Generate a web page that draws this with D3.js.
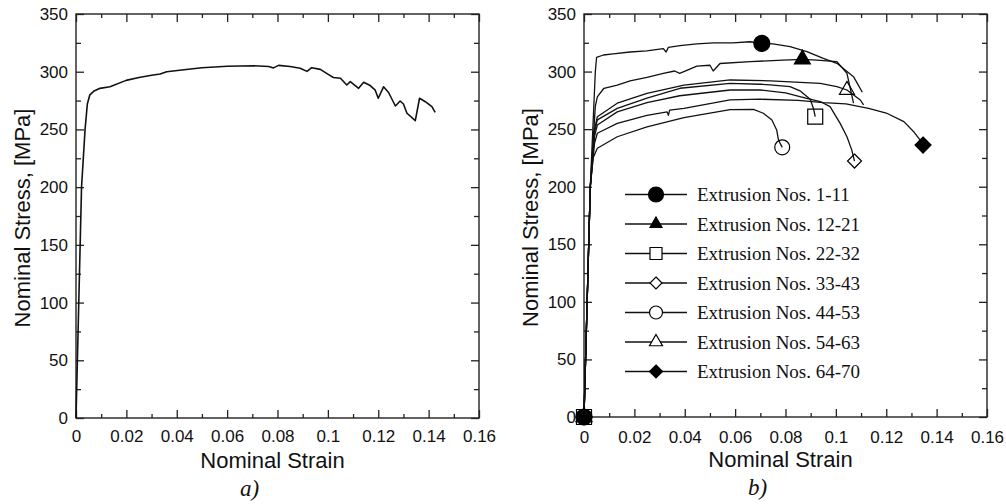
<!DOCTYPE html>
<html>
<head>
<meta charset="utf-8">
<script src="https://cdn.jsdelivr.net/npm/d3@7"></script>
<style>
  body { margin: 0; background: #fff; }
  svg { display: block; }
</style>
</head>
<body>
<svg id="chart" width="1006" height="504"></svg>
<script>
// ---- data ----
var xTicks = [0, 0.02, 0.04, 0.06, 0.08, 0.1, 0.12, 0.14, 0.16]
var xTickLabels = ["0", "0.02", "0.04", "0.06", "0.08", "0.1", "0.12", "0.14", "0.16"]
var xMinor = [0.01, 0.03, 0.05, 0.07, 0.09, 0.11, 0.13, 0.15]
var yTicks = [0, 50, 100, 150, 200, 250, 300, 350]
var yMinor = [25, 75, 125, 175, 225, 275, 325]

// panel a) single test
var curveA = [[0,0],[0.0022,200],[0.0036,250],[0.0045,272],[0.0055,280],[0.007,283],[0.0095,285.6],
  [0.0135,287],[0.0199,292.5],[0.025,295],[0.03,297],[0.0334,298],[0.036,300],[0.042,301.5],[0.05,303.5],
  [0.06,304.7],[0.0705,305.2],[0.0765,304.5],[0.0784,303.3],[0.0804,305.5],[0.085,304.5],[0.089,303],
  [0.0917,300.3],[0.0936,303.5],[0.097,302],[0.1003,297.5],[0.1022,295],[0.105,294.3],[0.1075,288.5],
  [0.1089,291.4],[0.1122,285.6],[0.1142,290.8],[0.1168,288],[0.1188,284],[0.12,277],[0.1221,286.9],
  [0.1241,282],[0.1268,270.3],[0.1287,274.6],[0.13,272],[0.1314,264],[0.1347,257.6],[0.1364,277],
  [0.1387,274],[0.1413,269.7],[0.1426,264.8]]

// panel b) one curve per extrusion group
var seriesLabels = ["Extrusion Nos. 1-11", "Extrusion Nos. 12-21", "Extrusion Nos. 22-32",
  "Extrusion Nos. 33-43", "Extrusion Nos. 44-53", "Extrusion Nos. 54-63", "Extrusion Nos. 64-70"]

var ext1_11 = [[0,0],[0.0025,200],[0.0045,300],[0.005,312.4],[0.0077,314.4],[0.0116,315.3],[0.0183,317],
  [0.0249,318],[0.0315,320],[0.0326,317],[0.0335,321],[0.0381,322.5],[0.0448,324],[0.0514,325],[0.059,325],
  [0.066,325.9],[0.0706,324.5],[0.075,324],[0.0818,321.6],[0.0885,317.3],[0.095,311.5],[0.1004,307.2],
  [0.107,295.6],[0.1105,282]]
var ext12_21 = [[0,0],[0.0025,200],[0.0045,270],[0.0053,278],[0.0079,285.5],[0.0132,288.3],[0.0183,292],
  [0.025,295],[0.0315,298.5],[0.036,300.5],[0.038,298.5],[0.0448,304.8],[0.05,305.5],[0.0513,300.5],
  [0.054,307],[0.066,308.6],[0.079,310],[0.0867,310.6],[0.0925,310],[0.1004,308.6],[0.1044,298.5],[0.107,272.5]]
var ext22_32 = [[0,0],[0.0025,200],[0.0042,248],[0.0053,258],[0.0132,268],[0.025,277],[0.0381,285.5],
  [0.058,289.8],[0.07,289],[0.0739,288.5],[0.0818,287],[0.086,283],[0.0898,276],[0.0911,268],[0.0918,260.8]]
var ext33_43 = [[0,0],[0.0025,200],[0.0042,244],[0.0053,253.6],[0.0132,265],[0.025,273],[0.038,279],
  [0.058,284],[0.07,284],[0.08,281.5],[0.088,277],[0.0938,274],[0.0977,269.5],[0.1017,255],[0.1044,243.4],
  [0.1063,232],[0.1074,222.3]]
var ext44_53 = [[0,0],[0.0025,200],[0.0036,225],[0.0053,233.4],[0.0132,243.4],[0.025,252],[0.0397,260],
  [0.058,267],[0.0673,267.2],[0.0712,263.8],[0.0746,258],[0.0765,249.3],[0.0772,240.6],[0.0787,234.2]]
var ext54_63 = [[0,0],[0.0025,200],[0.0042,250],[0.0053,260.8],[0.0132,272.5],[0.025,281],[0.0397,288.3],
  [0.058,292.7],[0.074,292],[0.0938,289.8],[0.1004,286.9],[0.1044,284],[0.1097,275.3],[0.111,271]]
var ext64_70 = [[0,0],[0.0025,200],[0.0042,238],[0.0053,246.4],[0.0132,255],[0.025,262],[0.033,265],
  [0.0335,262],[0.034,266.5],[0.0397,268],[0.058,275.4],[0.07,276],[0.085,275],[0.095,273],[0.104,272],
  [0.113,268],[0.12,264],[0.127,256.5],[0.1308,248],[0.134,239],[0.1346,236.2]]

var seriesData = [ext1_11, ext12_21, ext22_32, ext33_43, ext44_53, ext54_63, ext64_70]
// marked point on each curve (besides the origin)
var markStrain = [0.0706, 0.0867, 0.0918, 0.1074, 0.0787, 0.1044, 0.1346]
var markStress = [324.5, 310.6, 260.8, 222.3, 234.2, 284, 236.2]

// marker styles
var shapes = ["circle", "triangle", "square", "diamond", "circle", "triangle", "diamond"]
var filled = [true, true, false, false, false, false, true]
var markSize = [16, 16, 15, 14, 15, 15, 16]
var legendSize = [15, 12, 12, 12, 13, 13, 13]

var svg = d3.select("#chart")
var sans = "'Liberation Sans', Arial, Helvetica, sans-serif"
var serif = "'Liberation Serif', 'Times New Roman', serif"

function markerPath(type, s) {
  var h = s / 2
  if (type == "circle") return d3.symbol(d3.symbolCircle, Math.PI * h * h)()
  if (type == "square") return "M" + -h + "," + -h + "H" + h + "V" + h + "H" + -h + "Z"
  if (type == "diamond") return "M0," + -h + "L" + h + ",0L0," + h + "L" + -h + ",0Z"
  var th = s * 0.866
  return "M0," + (-th * 2 / 3) + "L" + h + "," + (th / 3) + "L" + -h + "," + (th / 3) + "Z"
}

function panel(left, top, w, h, caption, labelPad) {
  var x = d3.scaleLinear().domain([0, 0.16]).range([left, left + w])
  var y = d3.scaleLinear().domain([0, 350]).range([top + h, top])
  var g = svg.append("g")

  var axes = [
    [d3.axisBottom(x).tickValues(xTicks).tickSize(-8).tickPadding(labelPad)
      .tickFormat(function(d, i) { return xTickLabels[i] }), "translate(0," + (top + h) + ")"],
    [d3.axisBottom(x).tickValues(xMinor).tickSize(-4).tickFormat(""), "translate(0," + (top + h) + ")"],
    [d3.axisTop(x).tickValues(xTicks).tickSize(-8).tickFormat(""), "translate(0," + top + ")"],
    [d3.axisTop(x).tickValues(xMinor).tickSize(-4).tickFormat(""), "translate(0," + top + ")"],
    [d3.axisLeft(y).tickValues(yTicks).tickSize(-8).tickPadding(8), "translate(" + left + ",0)"],
    [d3.axisLeft(y).tickValues(yMinor).tickSize(-5).tickFormat(""), "translate(" + left + ",0)"],
    [d3.axisRight(y).tickValues(yTicks).tickSize(-8).tickFormat(""), "translate(" + (left + w) + ",0)"],
    [d3.axisRight(y).tickValues(yMinor).tickSize(-5).tickFormat(""), "translate(" + (left + w) + ",0)"]
  ]
  axes.forEach(function(a) {
    var ax = g.append("g").attr("transform", a[1]).call(a[0])
    ax.select(".domain").remove()
    ax.selectAll("line").attr("stroke", "#222").attr("stroke-width", 1.3)
    ax.selectAll("text").attr("font-family", sans).attr("font-size", 17).attr("fill", "#111")
  })

  g.append("rect")
    .attr("x", left).attr("y", top).attr("width", w).attr("height", h)
    .attr("fill", "none").attr("stroke", "#222").attr("stroke-width", 1.4)

  g.append("text")
    .attr("x", left + w / 2 - 5).attr("y", top + h + 50)
    .attr("text-anchor", "middle")
    .attr("font-family", sans).attr("font-size", 22).attr("fill", "#111")
    .text("Nominal Strain")

  g.append("text")
    .attr("transform", "translate(" + (left - 46) + "," + (top + h / 2 + 2) + ") rotate(-90)")
    .attr("text-anchor", "middle")
    .attr("font-family", sans).attr("font-size", 22).attr("fill", "#111")
    .text("Nominal Stress, [MPa]")

  g.append("text")
    .attr("x", left + w / 2 - 28).attr("y", top + h + 78)
    .attr("text-anchor", "middle")
    .attr("font-family", serif).attr("font-style", "italic").attr("font-size", 23).attr("fill", "#111")
    .text(caption)

  return {x: x, y: y}
}

// ---- panel a ----
var pa = panel(76, 14, 403, 404, "a)", 12)
var lineA = d3.line().x(function(d) { return pa.x(d[0]) }).y(function(d) { return pa.y(d[1]) })
svg.append("path")
  .datum(curveA)
  .attr("d", lineA)
  .attr("fill", "none").attr("stroke", "#111").attr("stroke-width", 1.6)
  .attr("stroke-linejoin", "round")

// ---- panel b ----
var pb = panel(584, 14, 403, 403, "b)", 14)
var lineB = d3.line().x(function(d) { return pb.x(d[0]) }).y(function(d) { return pb.y(d[1]) })

svg.append("g")
  .selectAll("path")
  .data(seriesData)
  .enter()
  .append("path")
    .attr("d", lineB)
    .attr("fill", "none").attr("stroke", "#111").attr("stroke-width", 1.3)
    .attr("stroke-linejoin", "round")

// markers at the origin and at the marked point of each curve
var markPts = []
seriesData.forEach(function(s, i) {
  markPts.push({i: i, x: s[0][0], y: s[0][1]})
  markPts.push({i: i, x: markStrain[i], y: markStress[i]})
})
svg.append("g")
  .selectAll("path")
  .data(markPts)
  .enter()
  .append("path")
    .attr("d", function(d) { return markerPath(shapes[d.i], markSize[d.i]) })
    .attr("transform", function(d) { return "translate(" + pb.x(d.x) + "," + pb.y(d.y) + ")" })
    .attr("fill", function(d) { return filled[d.i] ? "#000" : "none" })
    .attr("stroke", "#000").attr("stroke-width", 1.2)

// legend
var legend = svg.append("g")
  .selectAll("g")
  .data(seriesLabels)
  .enter()
  .append("g")
    .attr("transform", function(d, i) { return "translate(0," + (194.5 + i * 29.5) + ")" })

legend.append("line")
  .attr("x1", 625).attr("x2", 687).attr("y1", 0).attr("y2", 0)
  .attr("stroke", "#111").attr("stroke-width", 1.3)
legend.append("path")
  .attr("d", function(d, i) { return markerPath(shapes[i], legendSize[i]) })
  .attr("transform", "translate(656,0)")
  .attr("fill", function(d, i) { return filled[i] ? "#000" : "#fff" })
  .attr("stroke", "#000").attr("stroke-width", 1.2)
legend.append("text")
  .attr("x", 697).attr("y", 6.7)
  .attr("font-family", serif).attr("font-size", 19).attr("fill", "#111")
  .text(function(d) { return d })
</script>
</body>
</html>
